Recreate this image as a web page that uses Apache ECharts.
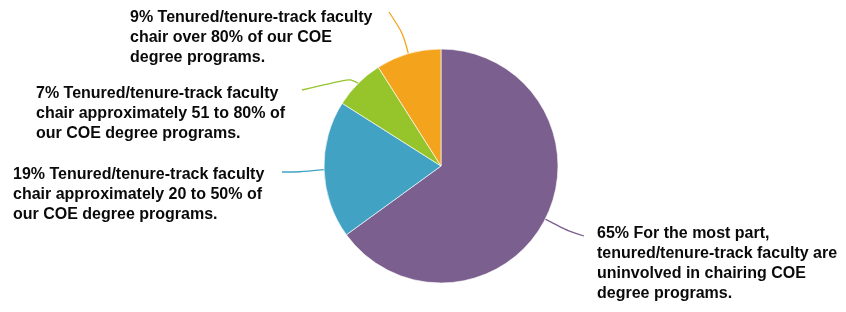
<!DOCTYPE html>
<html>
<head>
<meta charset="utf-8">
<script src="https://cdn.jsdelivr.net/npm/echarts@6/dist/echarts.min.js"></script>
<style>
  html, body { margin: 0; padding: 0; background: #fff; }
  #chart { width: 846px; height: 312px; }
</style>
</head>
<body>
<div id="chart"></div>
<script>
// slices, clockwise from 12 o'clock
const categories = [
  '65% For the most part,\ntenured/tenure-track faculty are\nuninvolved in chairing COE\ndegree programs.',
  '19% Tenured/tenure-track faculty\nchair approximately 20 to 50% of\nour COE degree programs.',
  '7% Tenured/tenure-track faculty\nchair approximately 51 to 80% of\nour COE degree programs.',
  '9% Tenured/tenure-track faculty\nchair over 80% of our COE\ndegree programs.'
]
const values = [65, 19, 7, 9]
const colors = ['#7b5f8f', '#41a2c3', '#95c52a', '#f4a41c']

// label block top-left, leader knee and leader end
const labelPos = [[597, 224], [13, 165], [36, 84], [130, 8]]
const leaderKnee = [[568, 231], [300, 172], [350, 79], [403, 33]]
const leaderEnd = [[584, 236], [282, 172], [302, 90], [389, 12]]

const chart = echarts.init(document.getElementById('chart'), null, { renderer: 'canvas' })

chart.setOption({
  animation: false,
  series: [{
    type: 'pie',
    center: [441, 166],
    radius: 117,
    startAngle: 90,
    clockwise: true,
    data: values.map((v, i) => ({
      name: categories[i], value: v,
      itemStyle: { color: colors[i] },
      labelLine: { lineStyle: { color: colors[i] } }
    })),
    itemStyle: { borderColor: 'rgba(255,255,255,0.8)', borderWidth: 0.8 },
    label: {
      show: true,
      formatter: '{b}',
      color: '#0a0a0a',
      fontFamily: 'Liberation Sans, Arial, sans-serif',
      fontWeight: 'bold',
      fontSize: 16,
      lineHeight: 20
    },
    labelLine: { show: true, length: 12, length2: 20, smooth: 0.3, lineStyle: { width: 1.3 } },
    labelLayout: (p) => {
      const i = p.dataIndex
      return {
        x: labelPos[i][0],
        y: labelPos[i][1],
        align: 'left',
        verticalAlign: 'top',
        labelLinePoints: [p.labelLinePoints[0], leaderKnee[i], leaderEnd[i]]
      }
    }
  }]
})
</script>
</body>
</html>
